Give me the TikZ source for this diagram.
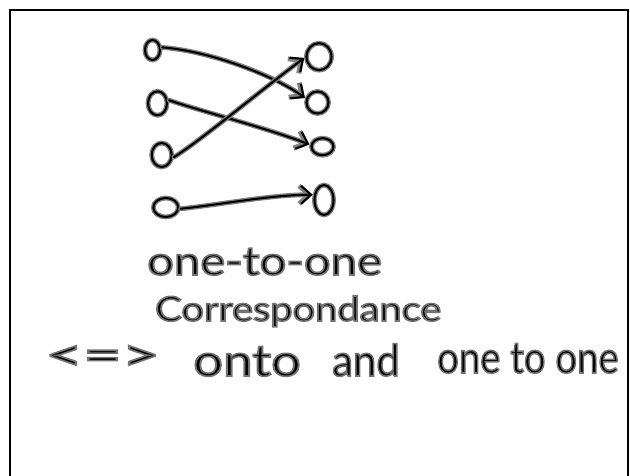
\documentclass[tikz,border=0pt]{standalone}
\usepackage{fontspec}
\usepackage{graphicx}
\setmainfont{Lato}
\usetikzlibrary{shapes.geometric,arrows.meta}
\newcommand\inkon{\special{pdf:literal direct 2 Tr 1.6 w 0.45 G}}
\newcommand\inkoff{\special{pdf:literal direct 0 Tr 0 G}}
\begin{document}
\begin{tikzpicture}[x=1pt,y=1pt,
  ink/.style={draw=black!50, line width=4.8pt, line cap=round, line join=round,
              postaction={draw=black, line width=2.1pt}},
  dot/.style={ink, ellipse, inner sep=0pt},
  arr/.style={ink, -{Straight Barb[length=10pt,width=18pt]}},
  hand/.style={anchor=base west, inner sep=0pt, text=black},
  frame/.style={draw=black, line width=2pt}
]
\useasboundingbox (0,0) rectangle (630,476);

% left column
\node[dot, minimum width=15pt, minimum height=20pt] (L1) at (152.5,426) {};
\node[dot, minimum width=19pt, minimum height=24pt] (L2) at (157.5,372.7) {};
\node[dot, minimum width=20pt, minimum height=24pt] (L3) at (161.7,321) {};
\node[dot, minimum width=25pt, minimum height=19pt] (L4) at (165.8,268.5) {};
% right column
\node[dot, minimum width=25pt, minimum height=27pt] (R1) at (319,419.3) {};
\node[dot, minimum width=22pt, minimum height=22pt] (R2) at (317.5,373.5) {};
\node[dot, minimum width=22pt, minimum height=17pt] (R3) at (322.5,329.3) {};
\node[dot, minimum width=19pt, minimum height=30pt] (R4) at (324,276) {};

% connectors
\draw[arr] (L1.15) .. controls (210,425) and (275,400) .. (R2.160);
\draw[arr] (L2.15) .. controls (200,365) and (260,350) .. (R3.170);
\draw[arr] (L3.-10) .. controls (200,335) and (260,385) .. (R1.185);
\draw[arr] (L4.-5) .. controls (225,272) and (270,281) .. (R4.155);

% texts
\node[hand, font=\fontsize{40}{44}\selectfont] (t1) at (147,201) {\inkon\scalebox{1.18}[1]{one-to-one}\inkoff};
\node[hand, font=\fontsize{34}{40}\selectfont] (t2) at (155,155) {\inkon\scalebox{1.17}[1]{Correspondance}\inkoff};
\node[hand, anchor=west, font=\fontsize{44}{48}\selectfont] (t3) at (45,118) {\inkon\scalebox{1.5}[1]{<=>}\inkoff};
\node[hand, font=\fontsize{44}{48}\selectfont] (t4) at (193,100) {\inkon\scalebox{1.2}[1]{onto}\inkoff};
\node[hand, font=\fontsize{44}{48}\selectfont] (t5) at (332,100) {\inkon\scalebox{0.95}[1]{and}\inkoff};
\node[hand, font=\fontsize{44}{48}\selectfont] (t6) at (437,103) {\inkon\scalebox{0.87}[1]{one to one}\inkoff};

% frame
\draw[frame] (10,-10) -- (10,466) -- (627.5,466) -- (627.5,-10);
\end{tikzpicture}
\end{document}
